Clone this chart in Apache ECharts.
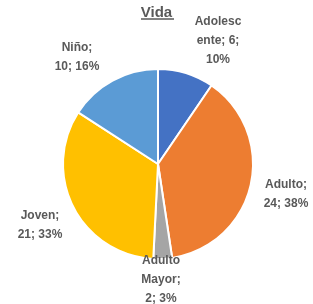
<!DOCTYPE html>
<html>
<head>
<meta charset="utf-8">
<script src="https://cdn.jsdelivr.net/npm/echarts@6/dist/echarts.min.js"></script>
<style>
html, body { margin: 0; padding: 0; background: #fff; }
#chart { width: 313px; height: 304px; }
</style>
</head>
<body>
<div id="chart"></div>
<script>
var categories = ['Adolescente', 'Adulto', 'Adulto Mayor', 'Joven', 'Niño'];
var values = [6, 24, 2, 21, 10];
var colors = ['#4472C4', '#ED7D31', '#A5A5A5', '#FFC000', '#5B9BD5'];
// how each label wraps, like the original
var labelBreaks = [
    function (n, v, p) { return 'Adolesc\nente; ' + v + ';\n' + p + '%'; },
    function (n, v, p) { return n + ';\n' + v + '; ' + p + '%'; },
    function (n, v, p) { return 'Adulto\nMayor;\n' + v + '; ' + p + '%'; },
    function (n, v, p) { return n + ';\n' + v + '; ' + p + '%'; },
    function (n, v, p) { return n + ';\n' + v + '; ' + p + '%'; }
];
// label centres (px)
var labelPos = [[218, 41], [286, 194], [161, 280], [40, 225], [77, 57]];

var data = categories.map(function (c, i) {
    return { name: c, value: values[i], itemStyle: { color: colors[i] } };
});

var myChart = echarts.init(document.getElementById('chart'));
myChart.setOption({
    animation: false,
    title: {
        text: 'Vida',
        left: 'center',
        top: 0,
        textStyle: {
            fontFamily: 'Liberation Sans',
            fontSize: 15,
            fontWeight: 'bold',
            color: '#595959'
        }
    },
    graphic: [{
        type: 'line',
        shape: { x1: 141, y1: 19, x2: 174, y2: 19 },
        style: { stroke: '#595959', lineWidth: 1.5 }
    }],
    series: [{
        name: 'Vida',
        type: 'pie',
        center: [158, 164],
        radius: 95,
        startAngle: 90,
        clockwise: true,
        percentPrecision: 0,
        avoidLabelOverlap: false,
        itemStyle: { borderColor: '#fff', borderWidth: 2 },
        label: {
            show: true,
            position: 'outside',
            alignTo: 'none',
            overflow: 'none',
            fontFamily: 'Liberation Sans',
            fontSize: 12,
            fontWeight: 'bold',
            color: '#595959',
            lineHeight: 19,
            align: 'center',
            formatter: function (p) {
                return labelBreaks[p.dataIndex](p.name, p.value, p.percent);
            }
        },
        labelLine: { show: false },
        labelLayout: function (p) {
            var pos = labelPos[p.dataIndex];
            return { x: pos[0], y: pos[1], align: 'center', verticalAlign: 'middle' };
        },
        data: data
    }]
});
</script>
</body>
</html>
